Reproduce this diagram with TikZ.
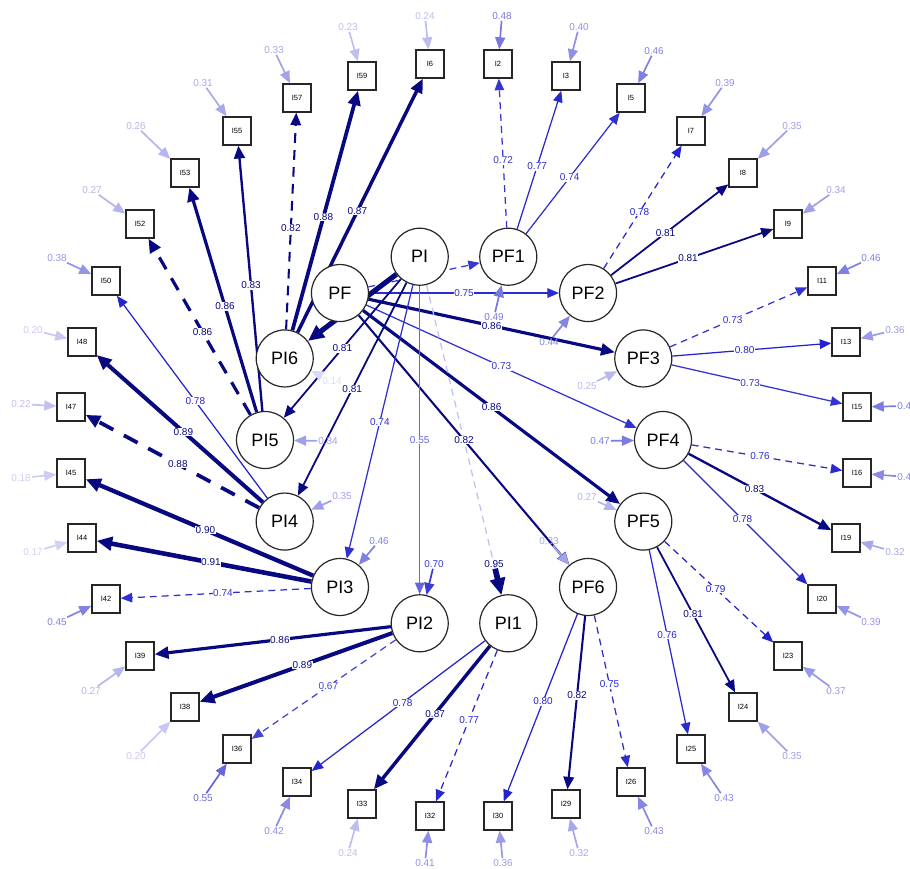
\documentclass[tikz,border=0pt]{standalone}
\usepackage{fontspec}
\setmainfont{Liberation Sans}
\usetikzlibrary{arrows.meta,calc}
\definecolor{hi}{RGB}{8,8,128}
\definecolor{lo}{RGB}{35,35,205}
\pgfdeclarelayer{edges}
\pgfdeclarelayer{rlabels}
\pgfdeclarelayer{labels}
\pgfsetlayers{edges,rlabels,labels,main}
\tikzset{
  lat/.style={circle, draw=black!85, line width=1.2pt, fill=white, minimum size=57pt, inner sep=0pt, font=\fontsize{18}{18}\selectfont},
  man/.style={rectangle, draw=black!85, line width=1.4pt, fill=white, minimum size=28pt, inner sep=0pt, font=\fontsize{7.5}{7.5}\selectfont},
  elab/.style={fill=white, inner sep=0.6pt, font=\fontsize{10}{10}\selectfont},
  rlab/.style={inner sep=1pt, font=\fontsize{10}{10}\selectfont},
  curdash/.style={}
}
% #1 from, #2 to, #3 value, #4 dashed (1/0), #5 show label (1/0)
\newcommand\edgeL[5]{%
  \pgfmathsetmacro\ew{#3>=0.805 ? 1.5+(#3-0.8)*28 : 1.25}%
  \pgfmathtruncatemacro\ep{min(100,#3*128)}%
  \ifdim #3pt<0.805pt \colorlet{ec}{lo!\ep!white}\else\colorlet{ec}{hi}\fi
  \pgfmathsetmacro\don{3.5*\ew+2.5}\pgfmathsetmacro\doff{2.8*\ew+1.5}%
  \pgfmathsetmacro\al{10+1.2*\ew}\pgfmathsetmacro\aw{8+1.2*\ew}%
  \ifnum#4=1 \tikzset{curdash/.style={dash pattern=on \don pt off \doff pt}}\else\tikzset{curdash/.style={}}\fi
  \begin{pgfonlayer}{edges}
  \draw[ec, line width=\ew pt, curdash, -{Triangle[length=\al pt,width=\aw pt]}] (#1) -- (#2);
  \end{pgfonlayer}
  \ifnum#5=1
  \begin{pgfonlayer}{labels}
  \node[elab, text=ec] at ($(#1)!0.5!(#2)$) {#3};
  \end{pgfonlayer}
  \fi
}
% #1 target, #2 value, #3 label position
\newcommand\resid[3]{%
  \pgfmathsetmacro\ew{#2>=0.805 ? 1.5+(#2-0.8)*28 : 1.7}%
  \pgfmathtruncatemacro\ep{min(100,#2*128)}%
  \ifdim #2pt<0.805pt \colorlet{ec}{lo!\ep!white}\else\colorlet{ec}{hi}\fi
  \pgfmathsetmacro\al{10+1.2*\ew}\pgfmathsetmacro\aw{8+1.2*\ew}%
  \begin{pgfonlayer}{rlabels}
  \node[rlab, text=ec] (r#1) at (#3) {#2};
  \end{pgfonlayer}
  \begin{pgfonlayer}{edges}
  \draw[ec, line width=\ew pt, -{Triangle[length=\al pt,width=\aw pt]}] (r#1) -- (#1);
  \end{pgfonlayer}
}
\begin{document}
\begin{tikzpicture}[x=1pt,y=-1pt]
\useasboundingbox (0,0) rectangle (910,868);
% latent variables
\foreach \n/\a in {PF1/77.143, PF2/51.429, PF3/25.714, PF4/0, PF5/-25.714, PF6/-51.429,
  PI1/-77.143, PI2/-102.857, PI3/-128.571, PI4/-154.286, PI5/-180, PI6/154.286, PF/128.571, PI/102.857}
  \node[lat] (\n) at ({464+199*cos(\a)},{440-188*sin(\a)}) {\n};
% manifest variables
\foreach \n/\a in {I2/85, I3/75, I5/65, I7/55, I8/45, I9/35, I11/25, I13/15, I15/5, I16/-5,
  I19/-15, I20/-25, I23/-35, I24/-45, I25/-55, I26/-65, I29/-75, I30/-85, I32/-95, I33/-105,
  I34/-115, I36/-125, I38/-135, I39/-145, I42/-155, I44/-165, I45/-175, I47/175, I48/165,
  I50/155, I52/145, I53/135, I55/125, I57/115, I59/105, I6/95}
  \node[man] (\n) at ({round(464+395*cos(\a))},{round(440-377*sin(\a))}) {\n};
% second-order loadings
\edgeL{PF}{PF1}{0.71}{1}{0}
\edgeL{PF}{PF2}{0.75}{0}{1}
\edgeL{PF}{PF3}{0.86}{0}{1}
\edgeL{PF}{PF4}{0.73}{0}{1}
\edgeL{PF}{PF5}{0.86}{0}{1}
\edgeL{PF}{PF6}{0.82}{0}{1}
\edgeL{PI}{PI1}{0.22}{1}{0}
\edgeL{PI}{PI2}{0.55}{0}{1}
\edgeL{PI}{PI3}{0.74}{0}{1}
\edgeL{PI}{PI4}{0.81}{0}{1}
\edgeL{PI}{PI5}{0.81}{0}{1}
\edgeL{PI}{PI6}{0.93}{0}{0}
% first-order loadings
\edgeL{PF1}{I2}{0.72}{1}{1}
\edgeL{PF1}{I3}{0.77}{0}{1}
\edgeL{PF1}{I5}{0.74}{0}{1}
\edgeL{PF2}{I7}{0.78}{1}{1}
\edgeL{PF2}{I8}{0.81}{0}{1}
\edgeL{PF2}{I9}{0.81}{0}{1}
\edgeL{PF3}{I11}{0.73}{1}{1}
\edgeL{PF3}{I13}{0.80}{0}{1}
\edgeL{PF3}{I15}{0.73}{0}{1}
\edgeL{PF4}{I16}{0.76}{1}{1}
\edgeL{PF4}{I19}{0.83}{0}{1}
\edgeL{PF4}{I20}{0.78}{0}{1}
\edgeL{PF5}{I23}{0.79}{1}{1}
\edgeL{PF5}{I24}{0.81}{0}{1}
\edgeL{PF5}{I25}{0.76}{0}{1}
\edgeL{PF6}{I26}{0.75}{1}{1}
\edgeL{PF6}{I29}{0.82}{0}{1}
\edgeL{PF6}{I30}{0.80}{0}{1}
\edgeL{PI1}{I32}{0.77}{1}{1}
\edgeL{PI1}{I33}{0.87}{0}{1}
\edgeL{PI1}{I34}{0.78}{0}{1}
\edgeL{PI2}{I36}{0.67}{1}{1}
\edgeL{PI2}{I38}{0.89}{0}{1}
\edgeL{PI2}{I39}{0.86}{0}{1}
\edgeL{PI3}{I42}{0.74}{1}{1}
\edgeL{PI3}{I44}{0.91}{0}{1}
\edgeL{PI3}{I45}{0.90}{0}{1}
\edgeL{PI4}{I47}{0.88}{1}{1}
\edgeL{PI4}{I48}{0.89}{0}{1}
\edgeL{PI4}{I50}{0.78}{0}{1}
\edgeL{PI5}{I52}{0.86}{1}{1}
\edgeL{PI5}{I53}{0.86}{0}{1}
\edgeL{PI5}{I55}{0.83}{0}{1}
\edgeL{PI6}{I57}{0.82}{1}{1}
\edgeL{PI6}{I59}{0.88}{0}{1}
\edgeL{PI6}{I6}{0.87}{0}{1}
% latent residuals
\resid{PF1}{0.49}{494,317}
\resid{PF2}{0.44}{549,342}
\resid{PF3}{0.25}{587,386}
\resid{PF4}{0.47}{600,441}
\resid{PF5}{0.27}{587,497}
\resid{PF6}{0.33}{549,541}
\resid{PI1}{0.95}{494,564}
\resid{PI2}{0.70}{434,564}
\resid{PI3}{0.46}{379,541}
\resid{PI4}{0.35}{342,496}
\resid{PI5}{0.34}{328,441}
\resid{PI6}{0.14}{332,381}
% manifest residuals
\resid{I2}{0.48}{502,16}
\resid{I3}{0.40}{579,27}
\resid{I5}{0.46}{654,51}
\resid{I7}{0.39}{725,83}
\resid{I8}{0.35}{792,126}
\resid{I9}{0.34}{836,190}
\resid{I11}{0.46}{871,258}
\resid{I13}{0.36}{895,330}
\resid{I15}{0.47}{907,406}
\resid{I16}{0.42}{907,477}
\resid{I19}{0.32}{895,552}
\resid{I20}{0.39}{871,622}
\resid{I23}{0.37}{836,691}
\resid{I24}{0.35}{792,756}
\resid{I25}{0.43}{724,798}
\resid{I26}{0.43}{654,831}
\resid{I29}{0.32}{579,853}
\resid{I30}{0.36}{503,863}
\resid{I32}{0.41}{425,863}
\resid{I33}{0.24}{348,853}
\resid{I34}{0.42}{274,831}
\resid{I36}{0.55}{203,798}
\resid{I38}{0.20}{136,756}
\resid{I39}{0.27}{91,691}
\resid{I42}{0.45}{57,622}
\resid{I44}{0.17}{33,552}
\resid{I45}{0.18}{21,478}
\resid{I47}{0.22}{21,404}
\resid{I48}{0.20}{33,330}
\resid{I50}{0.38}{57,258}
\resid{I52}{0.27}{92,190}
\resid{I53}{0.26}{136,126}
\resid{I55}{0.31}{203,83}
\resid{I57}{0.33}{274,50}
\resid{I59}{0.23}{348,27}
\resid{I6}{0.24}{425,16}
\end{tikzpicture}
\end{document}
